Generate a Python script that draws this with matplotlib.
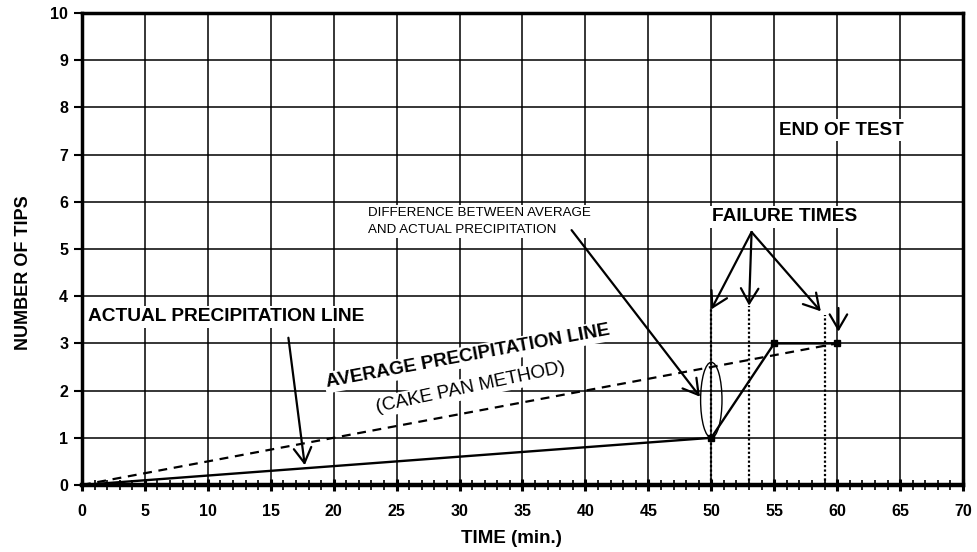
import matplotlib
matplotlib.use("Agg")
import matplotlib.pyplot as plt
from matplotlib.patches import Ellipse

plt.rcParams['font.family'] = ['Liberation Sans', 'DejaVu Sans']

# actual precipitation (tipping bucket record)
actual_time = [0, 50, 55, 60]
actual_tips = [0, 1, 3, 3]
marker_time = [50, 55, 60]
marker_tips = [1, 3, 3]

# average precipitation (cake pan method)
avg_time = [0, 60]
avg_tips = [0, 3]

failure_times = [50, 53, 59]
failure_tops = [3.75, 3.8, 3.6]

fig = plt.figure(figsize=(9.77, 5.52), dpi=100)
ax = fig.add_axes([0.0839, 0.1214, 0.9018, 0.855])

ax.set_xlim(0, 70)
ax.set_ylim(0, 10)
ax.set_xticks(range(0, 71, 5))
ax.set_xticks(range(0, 71, 1), minor=True)
ax.set_yticks(range(0, 11))
ax.grid(True, which='major', color='black', lw=1.1, zorder=1)
ax.set_axisbelow(True)

for s in ax.spines.values():
    s.set_linewidth(2.5)
ax.spines['bottom'].set_linewidth(3.2)

ax.tick_params(axis='y', direction='out', length=6, width=1.5, labelsize=11.5, pad=4)
ax.tick_params(axis='x', which='major', direction='inout', length=9, width=2.2,
               labelsize=11.5, pad=9)
ax.tick_params(axis='x', which='minor', direction='inout', length=7, width=1.2)
for lab in ax.get_xticklabels() + ax.get_yticklabels():
    lab.set_fontweight('bold')

ax.set_xlabel('TIME (min.)', fontsize=13.5, fontweight='bold')
ax.xaxis.set_label_coords(0.487, -0.095)
ax.set_ylabel('NUMBER OF TIPS', fontsize=13, fontweight='bold')
ax.yaxis.set_label_coords(-0.057, 0.45)

# lines
ax.plot(avg_time, avg_tips, color='black', lw=1.6, ls=(0, (4, 3)), zorder=4)
ax.plot(actual_time, actual_tips, color='black', lw=1.7, zorder=5)
ax.plot(marker_time, marker_tips, 's', color='black', ms=5, zorder=6)

for t, top in zip(failure_times, failure_tops):
    ax.plot([t, t], [0, top], color='black', lw=1.6, ls=(0, (1, 1)), zorder=3)

ax.add_patch(Ellipse((50, 1.8), 1.7, 1.6, fill=False, color='black', lw=1, zorder=6))

box = dict(facecolor='white', edgecolor='none', pad=1.5)
arrow = dict(arrowstyle='->,head_length=0.6,head_width=0.35', mutation_scale=18,
             color='black', lw=1.6, shrinkA=0, shrinkB=0)

ax.text(0.5, 3.56, 'ACTUAL PRECIPITATION LINE', fontsize=13.8, fontweight='bold',
        va='center', ha='left', bbox=box, zorder=7)
ax.annotate('', xy=(17.7, 0.42), xytext=(16.4, 3.12), arrowprops=arrow, zorder=7)

ax.text(30.7, 2.72, 'AVERAGE PRECIPITATION LINE', fontsize=13.6, fontweight='bold',
        rotation=10.5, rotation_mode='anchor', ha='center', va='center', bbox=box, zorder=7)
ax.text(30.9, 2.06, '(CAKE PAN METHOD)', fontsize=13.6,
        rotation=12, rotation_mode='anchor', ha='center', va='center', bbox=box, zorder=7)

ax.text(22.7, 5.59, 'DIFFERENCE BETWEEN AVERAGE\nAND ACTUAL PRECIPITATION', fontsize=9.6,
        va='center', ha='left', linespacing=1.55, bbox=box, zorder=7)
ax.annotate('', xy=(49.1, 1.87), xytext=(38.9, 5.4), arrowprops=arrow, zorder=7)

ax.text(55.8, 5.68, 'FAILURE TIMES', fontsize=13.8, fontweight='bold',
        ha='center', va='center', bbox=box, zorder=7)
ax.annotate('', xy=(50, 3.72), xytext=(53.2, 5.36), arrowprops=arrow, zorder=7)
ax.annotate('', xy=(53, 3.8), xytext=(53.2, 5.36), arrowprops=arrow, zorder=7)
ax.annotate('', xy=(58.7, 3.68), xytext=(53.2, 5.36), arrowprops=arrow, zorder=7)
ax.annotate('', xy=(60.1, 3.25), xytext=(60.1, 3.75), arrowprops=arrow, zorder=7)

ax.text(55.4, 7.52, 'END OF TEST', fontsize=13.6, fontweight='bold',
        ha='left', va='center', bbox=box, zorder=7)

fig.savefig('out.png', dpi=100)
